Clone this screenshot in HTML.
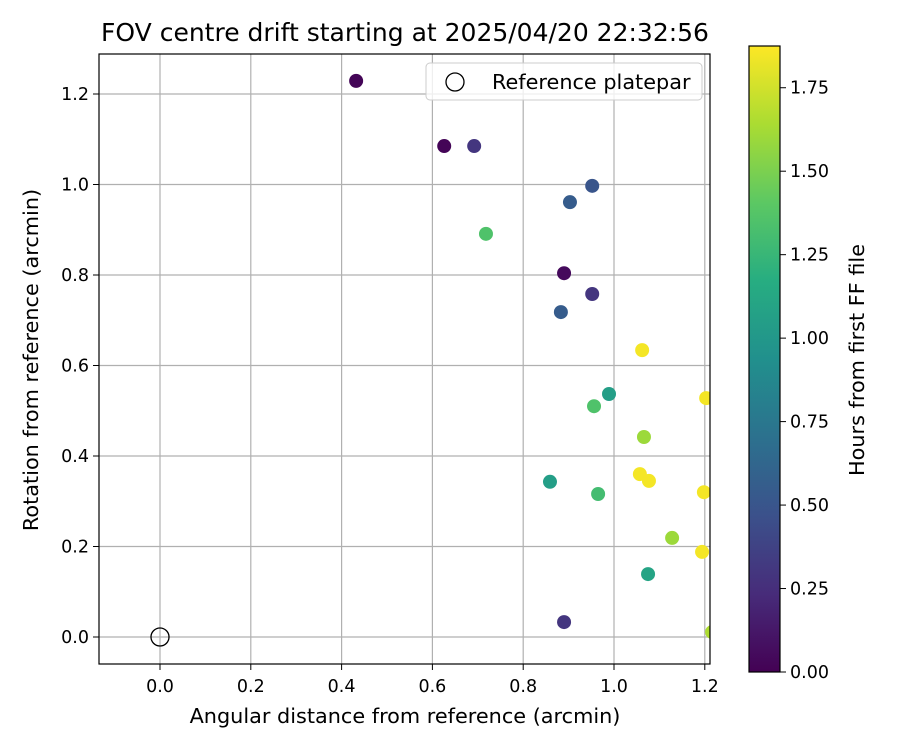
<!DOCTYPE html>
<html><head><meta charset="utf-8"><style>
body{margin:0;background:#fff;font-family:"Liberation Sans","DejaVu Sans",sans-serif}
svg text{font-family:"DejaVu Sans","Liberation Sans",sans-serif;fill:#000}
</style></head><body>
<svg id="c" width="900" height="750" xmlns="http://www.w3.org/2000/svg">
<defs><linearGradient id="vg" x1="0" y1="1" x2="0" y2="0">
<stop offset="0" stop-color="#440154"/><stop offset="0.125" stop-color="#472c7a"/><stop offset="0.25" stop-color="#3b518b"/><stop offset="0.375" stop-color="#2c718e"/><stop offset="0.5" stop-color="#21908d"/><stop offset="0.625" stop-color="#27ad81"/><stop offset="0.75" stop-color="#5cc863"/><stop offset="0.875" stop-color="#aadc32"/><stop offset="1" stop-color="#fde725"/></linearGradient>
<clipPath id="pc"><rect x="99" y="54" width="611" height="610"/></clipPath></defs>
<g id="grid"></g><g id="pts" clip-path="url(#pc)"></g>
<rect x="99" y="54" width="611" height="610" fill="none" stroke="#000" stroke-width="1.2"/>
<g id="axes"></g>
<text x="405" y="41" font-size="25" text-anchor="middle">FOV centre drift starting at 2025/04/20 22:32:56</text>
<text x="405" y="723" font-size="20.8" text-anchor="middle">Angular distance from reference (arcmin)</text>
<text x="38" y="360" font-size="20.8" text-anchor="middle" transform="rotate(-90 38 360)">Rotation from reference (arcmin)</text>
<g>
<rect x="426" y="63" width="276" height="37" rx="4" fill="#fff" fill-opacity="0.8" stroke="#ccc"/>
<circle cx="455" cy="82" r="9" fill="none" stroke="#000" stroke-width="1.3"/>
<text x="492" y="89" font-size="20.8">Reference platepar</text></g>
<rect x="749" y="46" width="31" height="626" fill="url(#vg)" stroke="#000" stroke-width="1.2"/>
<g id="cb"></g>
<text x="864" y="360" font-size="20.8" text-anchor="middle" transform="rotate(-90 864 360)">Hours from first FF file</text>
</svg>
<script>
const xs=[0.432,0.626,0.692,0.952,0.903,0.718,0.890,0.952,0.883,1.062,0.989,0.956,1.203,1.066,1.057,1.077,0.859,0.965,1.198,1.128,1.194,1.075,0.890,1.216];
const ys=[1.229,1.085,1.085,0.997,0.961,0.891,0.804,0.758,0.718,0.634,0.537,0.510,0.528,0.442,0.360,0.345,0.343,0.316,0.320,0.219,0.188,0.139,0.033,0.011];
const hours=[0.02,0.02,0.3,0.5,0.55,1.35,0.05,0.3,0.55,1.85,1.05,1.35,1.85,1.6,1.85,1.85,1.05,1.3,1.85,1.6,1.85,1.1,0.3,1.65];
const xTicks=[0,0.2,0.4,0.6,0.8,1.0,1.2];
const yTicks=[0,0.2,0.4,0.6,0.8,1.0,1.2];
const cTicks=[0,0.25,0.5,0.75,1.0,1.25,1.5,1.75];
const X=v=>160+v*454, Y=v=>637-v*452.5, C=v=>672-v*(626/1.875);
const NS="http://www.w3.org/2000/svg";
function mk(t,a,p){const e=document.createElementNS(NS,t);for(const k in a)e.setAttribute(k,a[k]);p.appendChild(e);return e;}
const vir=[[68,1,84],[71,44,122],[59,81,139],[44,113,142],[33,144,141],[39,173,129],[92,200,99],[170,220,50],[253,231,37]];
function col(h){let t=Math.max(0,Math.min(1,h/1.875))*8,i=Math.min(7,Math.floor(t)),f=t-i;const a=vir[i],b=vir[i+1];return `rgb(${a.map((v,k)=>Math.round(v+(b[k]-v)*f)).join(',')})`;}
const g=document.getElementById('grid'),ax=document.getElementById('axes'),P=document.getElementById('pts'),cb=document.getElementById('cb');
xTicks.forEach(v=>{
const l=mk('line',{x1:X(v),x2:X(v),y1:54,y2:664,stroke:'#b0b0b0','stroke-width':1.2},g);

mk('line',{x1:X(v),x2:X(v),y1:664,y2:670,stroke:'#000'},ax);
const t=mk('text',{x:X(v),y:692,'font-size':17.5,'text-anchor':'middle'},ax);t.textContent=v.toFixed(1);
});
yTicks.forEach(v=>{
const l=mk('line',{x1:99,x2:710,y1:Y(v),y2:Y(v),stroke:'#b0b0b0','stroke-width':1.2},g);

mk('line',{x1:93,x2:99,y1:Y(v),y2:Y(v),stroke:'#000'},ax);
const t=mk('text',{x:89,y:Y(v)+6,'font-size':17.5,'text-anchor':'end'},ax);t.textContent=v.toFixed(1);
});
cTicks.forEach(v=>{
mk('line',{x1:780,x2:786,y1:C(v),y2:C(v),stroke:'#000'},cb);
const t=mk('text',{x:790,y:C(v)+6,'font-size':17.5},cb);t.textContent=v.toFixed(2);
});
xs.forEach((v,i)=>{
const c=mk('circle',{cx:X(v),cy:Y(ys[i]),r:7,fill:col(hours[i])},P);

});
const r=mk('circle',{cx:X(0),cy:Y(0),r:9,fill:'none',stroke:'#000','stroke-width':1.3},P);


</script>
</body></html>
